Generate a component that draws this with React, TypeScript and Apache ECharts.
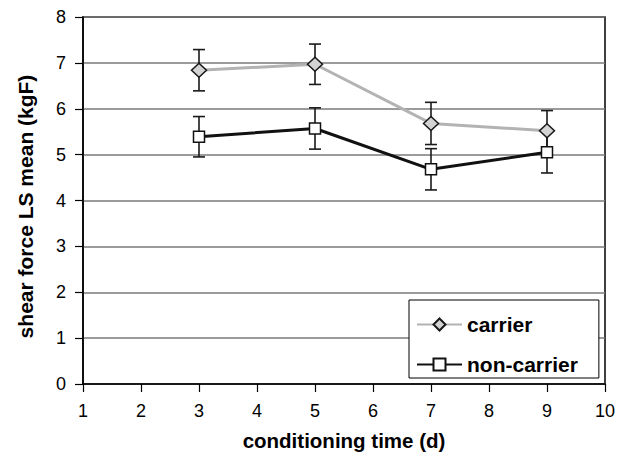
import React, { useEffect, useRef } from "react";
import * as echarts from "echarts";

const days = [3, 5, 7, 9];
const carrierMean = [6.84, 6.97, 5.68, 5.52];
const carrierErr = [0.45, 0.44, 0.46, 0.44];
const nonCarrierMean = [5.39, 5.57, 4.68, 5.05];
const nonCarrierErr = [0.44, 0.45, 0.45, 0.45];
const xTicks = [1, 2, 3, 4, 5, 6, 7, 8, 9, 10];
const yTicks = [0, 1, 2, 3, 4, 5, 6, 7, 8];

const FONT = "'Liberation Sans', Arial, sans-serif";

function errData(means: number[], errs: number[]) {
  return days.map((d, i) => [d, means[i] - errs[i], means[i] + errs[i]]);
}

function errorRender(params: any, api: any) {
  const x = api.value(0);
  const lo = api.coord([x, api.value(1)]);
  const hi = api.coord([x, api.value(2)]);
  const hw = 6;
  const style = { stroke: "#1a1a1a", lineWidth: 1.6 };
  return {
    type: "group",
    children: [
      { type: "line", shape: { x1: lo[0], y1: lo[1], x2: hi[0], y2: hi[1] }, style },
      { type: "line", shape: { x1: lo[0] - hw, y1: lo[1], x2: lo[0] + hw, y2: lo[1] }, style },
      { type: "line", shape: { x1: hi[0] - hw, y1: hi[1], x2: hi[0] + hw, y2: hi[1] }, style },
    ],
  };
}

export default function App() {
  const ref = useRef<HTMLDivElement>(null);
  useEffect(() => {
    if (!ref.current) return;
    const chart = echarts.init(ref.current, undefined, { renderer: "svg" });
    chart.setOption({
      animation: false,
      backgroundColor: "#fff",
      textStyle: { fontFamily: FONT },
      grid: {
        left: 83,
        top: 17,
        right: 23,
        bottom: 68,
        show: true,
        borderColor: "#000",
        borderWidth: 1.5,
        backgroundColor: "transparent",
      },
      xAxis: {
        type: "value",
        min: xTicks[0],
        max: xTicks[xTicks.length - 1],
        interval: 1,
        name: "conditioning time (d)",
        nameLocation: "middle",
        nameGap: 46,
        nameTextStyle: { fontSize: 20.5, fontWeight: "bold", color: "#000", fontFamily: FONT },
        axisLine: { show: true, lineStyle: { color: "#000", width: 1.5 } },
        axisTick: { show: true, inside: false, length: 8, lineStyle: { color: "#000", width: 1.2 } },
        axisLabel: { fontSize: 18, color: "#000", margin: 18, fontFamily: FONT },
        splitLine: { show: false },
      },
      yAxis: {
        type: "value",
        min: yTicks[0],
        max: yTicks[yTicks.length - 1],
        interval: 1,
        name: "shear force LS mean (kgF)",
        nameLocation: "middle",
        nameGap: 47,
        nameTextStyle: {
          fontSize: 21,
          fontWeight: "bold",
          color: "#000",
          fontFamily: FONT,
          padding: [0, 12, 0, 0],
        },
        axisLine: { show: true, lineStyle: { color: "#000", width: 1.5 } },
        axisTick: { show: true, inside: false, length: 8, lineStyle: { color: "#000", width: 1.2 } },
        axisLabel: { fontSize: 18, color: "#000", margin: 17, fontFamily: FONT },
        splitLine: { show: true, lineStyle: { color: "#7a7a7a", width: 1.5 } },
      },
      legend: {
        data: ["carrier", "non-carrier"],
        orient: "vertical",
        left: 409,
        top: 300,
        backgroundColor: "#fff",
        borderColor: "#000",
        borderWidth: 1,
        padding: [14, 21, 3, 7],
        itemGap: 19,
        itemWidth: 45,
        itemHeight: 15,
        textStyle: { fontSize: 21, fontWeight: "bold", color: "#000", fontFamily: FONT },
      },
      series: [
        {
          type: "custom",
          name: "carrierErr",
          renderItem: errorRender,
          data: errData(carrierMean, carrierErr),
          z: 2,
          silent: true,
        },
        {
          type: "custom",
          name: "nonCarrierErr",
          renderItem: errorRender,
          data: errData(nonCarrierMean, nonCarrierErr),
          z: 2,
          silent: true,
        },
        {
          type: "line",
          name: "carrier",
          data: days.map((d, i) => [d, carrierMean[i]]),
          symbol: "diamond",
          symbolSize: [15, 14],
          showAllSymbol: true,
          lineStyle: { color: "#b3b3b3", width: 3 },
          itemStyle: { color: "#d3d3d3", borderColor: "#1a1a1a", borderWidth: 1.5 },
          z: 3,
        },
        {
          type: "line",
          name: "non-carrier",
          data: days.map((d, i) => [d, nonCarrierMean[i]]),
          symbol: "rect",
          symbolSize: 11,
          showAllSymbol: true,
          lineStyle: { color: "#111", width: 3 },
          itemStyle: { color: "#fff", borderColor: "#111", borderWidth: 1.5 },
          z: 4,
        },
      ],
    });
    return () => chart.dispose();
  }, []);
  return (
    <div
      ref={ref}
      style={{ position: "fixed", left: 0, top: 0, width: 628, height: 456 }}
    />
  );
}
